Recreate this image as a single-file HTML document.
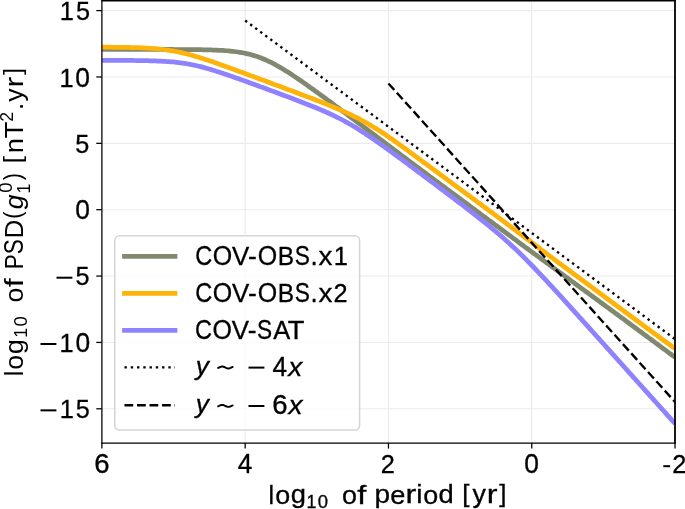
<!DOCTYPE html><html><head><meta charset="utf-8"><title>PSD</title><style>html,body{margin:0;padding:0;background:#fff;overflow:hidden}svg{display:block;will-change:transform}text{font-family:"Liberation Sans",sans-serif;fill:#000;stroke:#000;stroke-width:0.3px}</style></head><body>
<svg width="685" height="509" viewBox="0 0 685 509">
<defs><clipPath id="ax"><rect x="101.9" y="0" width="573.1" height="443"/></clipPath></defs>
<line x1="245.18" y1="0" x2="245.18" y2="443" stroke="#ebebeb" stroke-width="1.1"/>
<line x1="388.46" y1="0" x2="388.46" y2="443" stroke="#ebebeb" stroke-width="1.1"/>
<line x1="531.74" y1="0" x2="531.74" y2="443" stroke="#ebebeb" stroke-width="1.1"/>
<line x1="101.9" y1="10.60" x2="675" y2="10.60" stroke="#ebebeb" stroke-width="1.1"/>
<line x1="101.9" y1="76.96" x2="675" y2="76.96" stroke="#ebebeb" stroke-width="1.1"/>
<line x1="101.9" y1="143.33" x2="675" y2="143.33" stroke="#ebebeb" stroke-width="1.1"/>
<line x1="101.9" y1="209.69" x2="675" y2="209.69" stroke="#ebebeb" stroke-width="1.1"/>
<line x1="101.9" y1="276.06" x2="675" y2="276.06" stroke="#ebebeb" stroke-width="1.1"/>
<line x1="101.9" y1="342.43" x2="675" y2="342.43" stroke="#ebebeb" stroke-width="1.1"/>
<line x1="101.9" y1="408.79" x2="675" y2="408.79" stroke="#ebebeb" stroke-width="1.1"/>
<g clip-path="url(#ax)" fill="none">
<path d="M101.90,49.45 L103.82,49.45 L105.73,49.45 L107.65,49.45 L109.57,49.45 L111.48,49.45 L113.40,49.45 L115.32,49.45 L117.23,49.45 L119.15,49.45 L121.07,49.45 L122.98,49.45 L124.90,49.45 L126.82,49.45 L128.74,49.45 L130.65,49.45 L132.57,49.45 L134.49,49.45 L136.40,49.45 L138.32,49.45 L140.24,49.46 L142.15,49.46 L144.07,49.46 L145.99,49.46 L147.90,49.46 L149.82,49.46 L151.74,49.46 L153.65,49.46 L155.57,49.46 L157.49,49.47 L159.40,49.47 L161.32,49.47 L163.24,49.47 L165.15,49.48 L167.07,49.48 L168.99,49.48 L170.90,49.49 L172.82,49.49 L174.74,49.50 L176.65,49.51 L178.57,49.51 L180.49,49.52 L182.41,49.53 L184.32,49.54 L186.24,49.55 L188.16,49.57 L190.07,49.58 L191.99,49.60 L193.91,49.62 L195.82,49.64 L197.74,49.66 L199.66,49.69 L201.57,49.72 L203.49,49.76 L205.41,49.80 L207.32,49.84 L209.24,49.89 L211.16,49.95 L213.07,50.02 L214.99,50.09 L216.91,50.17 L218.82,50.26 L220.74,50.36 L222.66,50.48 L224.57,50.60 L226.49,50.75 L228.41,50.91 L230.32,51.08 L232.24,51.28 L234.16,51.50 L236.08,51.75 L237.99,52.02 L239.91,52.31 L241.83,52.64 L243.74,53.00 L245.66,53.40 L247.58,53.83 L249.49,54.29 L251.41,54.80 L253.33,55.35 L255.24,55.94 L257.16,56.57 L259.08,57.25 L260.99,57.97 L262.91,58.73 L264.83,59.54 L266.74,60.39 L268.66,61.28 L270.58,62.21 L272.49,63.18 L274.41,64.19 L276.33,65.23 L278.24,66.31 L280.16,67.41 L282.08,68.55 L283.99,69.71 L285.91,70.90 L287.83,72.11 L289.75,73.34 L291.66,74.59 L293.58,75.86 L295.50,77.15 L297.41,78.44 L299.33,79.76 L301.25,81.08 L303.16,82.41 L305.08,83.76 L307.00,85.11 L308.91,86.47 L310.83,87.84 L312.75,89.21 L314.66,90.59 L316.58,91.97 L318.50,93.36 L320.41,94.75 L322.33,96.14 L324.25,97.54 L326.16,98.94 L328.08,100.34 L330.00,101.74 L331.91,103.17 L333.83,104.60 L335.75,106.03 L337.67,107.46 L339.58,108.89 L341.50,110.32 L343.42,111.75 L345.33,113.18 L347.25,114.62 L349.17,116.05 L351.08,117.49 L353.00,118.93 L354.92,120.36 L356.83,121.80 L358.75,123.24 L360.67,124.67 L362.58,126.11 L364.50,127.55 L366.42,128.99 L368.33,130.43 L370.25,131.86 L372.17,133.30 L374.08,134.74 L376.00,136.18 L377.92,137.62 L379.83,139.06 L381.75,140.50 L383.67,141.94 L385.58,143.38 L387.50,144.81 L389.42,146.25 L391.34,147.69 L393.25,149.13 L395.17,150.57 L397.09,152.01 L399.00,153.45 L400.92,154.89 L402.84,156.33 L404.75,157.77 L406.67,159.21 L408.59,160.65 L410.50,162.08 L412.42,163.50 L414.34,164.92 L416.25,166.34 L418.17,167.77 L420.09,169.19 L422.00,170.61 L423.92,172.03 L425.84,173.45 L427.75,174.87 L429.67,176.29 L431.59,177.71 L433.50,179.13 L435.42,180.55 L437.34,181.97 L439.25,183.39 L441.17,184.81 L443.09,186.23 L445.01,187.65 L446.92,189.07 L448.84,190.49 L450.76,191.91 L452.67,193.33 L454.59,194.75 L456.51,196.18 L458.42,197.60 L460.34,199.02 L462.26,200.44 L464.17,201.86 L466.09,203.28 L468.01,204.70 L469.92,206.12 L471.84,207.54 L473.76,208.96 L475.67,210.38 L477.59,211.80 L479.51,213.22 L481.42,214.64 L483.34,216.06 L485.26,217.48 L487.17,218.90 L489.09,220.32 L491.01,221.74 L492.93,223.17 L494.84,224.59 L496.76,226.01 L498.68,227.43 L500.59,228.85 L502.51,230.27 L504.43,231.69 L506.34,233.11 L508.26,234.53 L510.18,235.95 L512.09,237.37 L514.01,238.79 L515.93,240.21 L517.84,241.63 L519.76,243.05 L521.68,244.47 L523.59,245.89 L525.51,247.31 L527.43,248.73 L529.34,250.15 L531.26,251.56 L533.18,252.97 L535.09,254.37 L537.01,255.77 L538.93,257.18 L540.84,258.58 L542.76,259.99 L544.68,261.39 L546.60,262.79 L548.51,264.20 L550.43,265.60 L552.35,267.00 L554.26,268.41 L556.18,269.81 L558.10,271.21 L560.01,272.62 L561.93,274.02 L563.85,275.42 L565.76,276.83 L567.68,278.23 L569.60,279.63 L571.51,281.04 L573.43,282.44 L575.35,283.84 L577.26,285.25 L579.18,286.65 L581.10,288.05 L583.01,289.46 L584.93,290.86 L586.85,292.27 L588.76,293.67 L590.68,295.07 L592.60,296.48 L594.51,297.88 L596.43,299.28 L598.35,300.69 L600.27,302.09 L602.18,303.49 L604.10,304.90 L606.02,306.30 L607.93,307.70 L609.85,309.11 L611.77,310.51 L613.68,311.91 L615.60,313.32 L617.52,314.72 L619.43,316.12 L621.35,317.54 L623.27,318.96 L625.18,320.38 L627.10,321.80 L629.02,323.22 L630.93,324.64 L632.85,326.06 L634.77,327.48 L636.68,328.90 L638.60,330.32 L640.52,331.75 L642.43,333.17 L644.35,334.59 L646.27,336.01 L648.18,337.43 L650.10,338.85 L652.02,340.27 L653.94,341.69 L655.85,343.11 L657.77,344.53 L659.69,345.95 L661.60,347.37 L663.52,348.79 L665.44,350.21 L667.35,351.63 L669.27,353.05 L671.19,354.47 L673.10,355.89 L675.02,357.31" stroke="#808870" stroke-width="4.75" stroke-linejoin="round"/>
<path d="M101.90,47.20 L103.82,47.20 L105.73,47.21 L107.65,47.22 L109.57,47.23 L111.48,47.25 L113.40,47.26 L115.32,47.28 L117.23,47.30 L119.15,47.32 L121.07,47.34 L122.98,47.37 L124.90,47.40 L126.82,47.43 L128.74,47.47 L130.65,47.51 L132.57,47.56 L134.49,47.61 L136.40,47.67 L138.32,47.73 L140.24,47.81 L142.15,47.89 L144.07,47.98 L145.99,48.08 L147.90,48.20 L149.82,48.32 L151.74,48.45 L153.65,48.58 L155.57,48.73 L157.49,48.90 L159.40,49.08 L161.32,49.28 L163.24,49.50 L165.15,49.74 L167.07,50.01 L168.99,50.29 L170.90,50.59 L172.82,50.92 L174.74,51.27 L176.65,51.64 L178.57,52.03 L180.49,52.44 L182.41,52.88 L184.32,53.33 L186.24,53.80 L188.16,54.29 L190.07,54.80 L191.99,55.32 L193.91,55.86 L195.82,56.42 L197.74,56.99 L199.66,57.57 L201.57,58.17 L203.49,58.79 L205.41,59.42 L207.32,60.06 L209.24,60.71 L211.16,61.36 L213.07,62.02 L214.99,62.68 L216.91,63.35 L218.82,64.03 L220.74,64.71 L222.66,65.39 L224.57,66.08 L226.49,66.76 L228.41,67.46 L230.32,68.15 L232.24,68.85 L234.16,69.54 L236.08,70.24 L237.99,70.94 L239.91,71.65 L241.83,72.35 L243.74,73.05 L245.66,73.76 L247.58,74.46 L249.49,75.17 L251.41,75.88 L253.33,76.59 L255.24,77.30 L257.16,78.00 L259.08,78.71 L260.99,79.42 L262.91,80.14 L264.83,80.85 L266.74,81.56 L268.66,82.27 L270.58,82.98 L272.49,83.69 L274.41,84.41 L276.33,85.12 L278.24,85.83 L280.16,86.55 L282.08,87.26 L283.99,87.98 L285.91,88.69 L287.83,89.41 L289.75,90.13 L291.66,90.84 L293.58,91.56 L295.50,92.28 L297.41,93.00 L299.33,93.72 L301.25,94.45 L303.16,95.17 L305.08,95.90 L307.00,96.62 L308.91,97.35 L310.83,98.09 L312.75,98.82 L314.66,99.56 L316.58,100.30 L318.50,101.05 L320.41,101.79 L322.33,102.55 L324.25,103.31 L326.16,104.07 L328.08,104.84 L330.00,105.62 L331.91,106.40 L333.83,107.20 L335.75,108.00 L337.67,108.81 L339.58,109.64 L341.50,110.48 L343.42,111.33 L345.33,112.19 L347.25,113.07 L349.17,113.97 L351.08,114.88 L353.00,115.81 L354.92,116.76 L356.83,117.73 L358.75,118.72 L360.67,119.73 L362.58,120.77 L364.50,121.82 L366.42,122.90 L368.33,123.99 L370.25,125.11 L372.17,126.26 L374.08,127.42 L376.00,128.60 L377.92,129.80 L379.83,131.02 L381.75,132.27 L383.67,133.55 L385.58,134.84 L387.50,136.15 L389.42,137.46 L391.34,138.80 L393.25,140.14 L395.17,141.49 L397.09,142.85 L399.00,144.22 L400.92,145.60 L402.84,146.98 L404.75,148.37 L406.67,149.77 L408.59,151.17 L410.50,152.58 L412.42,153.99 L414.34,155.40 L416.25,156.82 L418.17,158.24 L420.09,159.66 L422.00,161.06 L423.92,162.47 L425.84,163.87 L427.75,165.28 L429.67,166.69 L431.59,168.10 L433.50,169.51 L435.42,170.92 L437.34,172.33 L439.25,173.75 L441.17,175.16 L443.09,176.57 L445.01,177.99 L446.92,179.41 L448.84,180.82 L450.76,182.24 L452.67,183.66 L454.59,185.07 L456.51,186.49 L458.42,187.91 L460.34,189.33 L462.26,190.74 L464.17,192.16 L466.09,193.58 L468.01,195.00 L469.92,196.42 L471.84,197.84 L473.76,199.26 L475.67,200.67 L477.59,202.09 L479.51,203.51 L481.42,204.93 L483.34,206.35 L485.26,207.77 L487.17,209.19 L489.09,210.61 L491.01,212.03 L492.93,213.45 L494.84,214.87 L496.76,216.29 L498.68,217.70 L500.59,219.13 L502.51,220.57 L504.43,222.01 L506.34,223.45 L508.26,224.88 L510.18,226.32 L512.09,227.76 L514.01,229.20 L515.93,230.64 L517.84,232.08 L519.76,233.52 L521.68,234.96 L523.59,236.39 L525.51,237.83 L527.43,239.27 L529.34,240.71 L531.26,242.15 L533.18,243.59 L535.09,245.03 L537.01,246.46 L538.93,247.90 L540.84,249.34 L542.76,250.78 L544.68,252.22 L546.60,253.66 L548.51,255.10 L550.43,256.53 L552.35,257.97 L554.26,259.41 L556.18,260.85 L558.10,262.29 L560.01,263.73 L561.93,265.15 L563.85,266.57 L565.76,267.99 L567.68,269.41 L569.60,270.83 L571.51,272.25 L573.43,273.66 L575.35,275.08 L577.26,276.50 L579.18,277.92 L581.10,279.34 L583.01,280.76 L584.93,282.18 L586.85,283.60 L588.76,285.02 L590.68,286.44 L592.60,287.86 L594.51,289.28 L596.43,290.70 L598.35,292.12 L600.27,293.54 L602.18,294.96 L604.10,296.38 L606.02,297.80 L607.93,299.22 L609.85,300.64 L611.77,302.05 L613.68,303.47 L615.60,304.89 L617.52,306.31 L619.43,307.73 L621.35,309.15 L623.27,310.57 L625.18,311.99 L627.10,313.41 L629.02,314.83 L630.93,316.25 L632.85,317.67 L634.77,319.09 L636.68,320.51 L638.60,321.93 L640.52,323.35 L642.43,324.77 L644.35,326.19 L646.27,327.61 L648.18,329.03 L650.10,330.44 L652.02,331.84 L653.94,333.24 L655.85,334.64 L657.77,336.03 L659.69,337.43 L661.60,338.83 L663.52,340.23 L665.44,341.62 L667.35,343.02 L669.27,344.42 L671.19,345.82 L673.10,347.21 L675.02,348.61" stroke="#feb308" stroke-width="4.75" stroke-linejoin="round"/>
<path d="M101.90,60.35 L103.82,60.35 L105.73,60.35 L107.65,60.36 L109.57,60.36 L111.48,60.37 L113.40,60.37 L115.32,60.38 L117.23,60.38 L119.15,60.39 L121.07,60.40 L122.98,60.41 L124.90,60.42 L126.82,60.44 L128.74,60.45 L130.65,60.47 L132.57,60.48 L134.49,60.50 L136.40,60.53 L138.32,60.55 L140.24,60.58 L142.15,60.62 L144.07,60.65 L145.99,60.70 L147.90,60.74 L149.82,60.80 L151.74,60.84 L153.65,60.89 L155.57,60.95 L157.49,61.02 L159.40,61.09 L161.32,61.18 L163.24,61.28 L165.15,61.39 L167.07,61.51 L168.99,61.65 L170.90,61.80 L172.82,61.97 L174.74,62.16 L176.65,62.36 L178.57,62.59 L180.49,62.83 L182.41,63.09 L184.32,63.38 L186.24,63.68 L188.16,64.01 L190.07,64.36 L191.99,64.73 L193.91,65.13 L195.82,65.54 L197.74,65.98 L199.66,66.43 L201.57,66.92 L203.49,67.42 L205.41,67.95 L207.32,68.49 L209.24,69.04 L211.16,69.61 L213.07,70.20 L214.99,70.79 L216.91,71.40 L218.82,72.01 L220.74,72.64 L222.66,73.27 L224.57,73.91 L226.49,74.56 L228.41,75.22 L230.32,75.88 L232.24,76.54 L234.16,77.21 L236.08,77.89 L237.99,78.57 L239.91,79.25 L241.83,79.93 L243.74,80.62 L245.66,81.31 L247.58,82.00 L249.49,82.70 L251.41,83.39 L253.33,84.09 L255.24,84.79 L257.16,85.49 L259.08,86.19 L260.99,86.89 L262.91,87.60 L264.83,88.30 L266.74,89.01 L268.66,89.71 L270.58,90.42 L272.49,91.13 L274.41,91.84 L276.33,92.55 L278.24,93.26 L280.16,93.97 L282.08,94.69 L283.99,95.40 L285.91,96.12 L287.83,96.84 L289.75,97.56 L291.66,98.28 L293.58,99.01 L295.50,99.74 L297.41,100.47 L299.33,101.20 L301.25,101.94 L303.16,102.68 L305.08,103.43 L307.00,104.18 L308.91,104.94 L310.83,105.70 L312.75,106.47 L314.66,107.24 L316.58,108.03 L318.50,108.82 L320.41,109.63 L322.33,110.44 L324.25,111.27 L326.16,112.11 L328.08,112.96 L330.00,113.83 L331.91,114.73 L333.83,115.64 L335.75,116.58 L337.67,117.53 L339.58,118.51 L341.50,119.50 L343.42,120.52 L345.33,121.55 L347.25,122.61 L349.17,123.70 L351.08,124.80 L353.00,125.93 L354.92,127.08 L356.83,128.25 L358.75,129.44 L360.67,130.65 L362.58,131.88 L364.50,133.13 L366.42,134.40 L368.33,135.68 L370.25,136.98 L372.17,138.30 L374.08,139.62 L376.00,140.96 L377.92,142.31 L379.83,143.68 L381.75,145.03 L383.67,146.40 L385.58,147.77 L387.50,149.15 L389.42,150.53 L391.34,151.92 L393.25,153.32 L395.17,154.72 L397.09,156.12 L399.00,157.53 L400.92,158.94 L402.84,160.35 L404.75,161.77 L406.67,163.19 L408.59,164.61 L410.50,166.04 L412.42,167.46 L414.34,168.89 L416.25,170.32 L418.17,171.75 L420.09,173.18 L422.00,174.61 L423.92,176.04 L425.84,177.48 L427.75,178.91 L429.67,180.35 L431.59,181.78 L433.50,183.22 L435.42,184.66 L437.34,186.10 L439.25,187.54 L441.17,188.98 L443.09,190.42 L445.01,191.87 L446.92,193.31 L448.84,194.76 L450.76,196.21 L452.67,197.66 L454.59,199.11 L456.51,200.56 L458.42,202.02 L460.34,203.48 L462.26,204.94 L464.17,206.40 L466.09,207.87 L468.01,209.34 L469.92,210.82 L471.84,212.30 L473.76,213.79 L475.67,215.28 L477.59,216.78 L479.51,218.29 L481.42,219.81 L483.34,221.33 L485.26,222.87 L487.17,224.41 L489.09,225.97 L491.01,227.54 L492.93,229.13 L494.84,230.72 L496.76,232.34 L498.68,233.97 L500.59,235.62 L502.51,237.29 L504.43,238.98 L506.34,240.69 L508.26,242.41 L510.18,244.16 L512.09,245.94 L514.01,247.73 L515.93,249.54 L517.84,251.38 L519.76,253.24 L521.68,255.11 L523.59,257.01 L525.51,258.93 L527.43,260.86 L529.34,262.81 L531.26,264.78 L533.18,266.76 L535.09,268.76 L537.01,270.77 L538.93,272.80 L540.84,274.83 L542.76,276.88 L544.68,278.93 L546.60,280.99 L548.51,283.06 L550.43,285.14 L552.35,287.23 L554.26,289.32 L556.18,291.41 L558.10,293.51 L560.01,295.62 L561.93,297.72 L563.85,299.83 L565.76,301.95 L567.68,304.06 L569.60,306.18 L571.51,308.30 L573.43,310.43 L575.35,312.55 L577.26,314.68 L579.18,316.81 L581.10,318.93 L583.01,321.06 L584.93,323.19 L586.85,325.33 L588.76,327.46 L590.68,329.59 L592.60,331.72 L594.51,333.86 L596.43,335.99 L598.35,338.13 L600.27,340.26 L602.18,342.40 L604.10,344.53 L606.02,346.67 L607.93,348.80 L609.85,350.94 L611.77,353.08 L613.68,355.21 L615.60,357.35 L617.52,359.49 L619.43,361.62 L621.35,363.76 L623.27,365.90 L625.18,368.03 L627.10,370.17 L629.02,372.31 L630.93,374.45 L632.85,376.58 L634.77,378.72 L636.68,380.86 L638.60,382.99 L640.52,385.13 L642.43,387.27 L644.35,389.41 L646.27,391.54 L648.18,393.68 L650.10,395.82 L652.02,397.96 L653.94,400.09 L655.85,402.23 L657.77,404.37 L659.69,406.51 L661.60,408.64 L663.52,410.78 L665.44,412.92 L667.35,415.06 L669.27,417.19 L671.19,419.33 L673.10,421.47 L675.02,423.61" stroke="#8e82fe" stroke-width="4.75" stroke-linejoin="round"/>
<line x1="245.18" y1="20.55" x2="675.02" y2="339.11" stroke="#000" stroke-width="2.362" stroke-dasharray="2.362 3.90"/>
<line x1="388.46" y1="83.47" x2="675.02" y2="402.02" stroke="#000" stroke-width="2.362" stroke-dasharray="8.74 3.78"/>
</g>
<line x1="101.9" y1="0" x2="101.9" y2="443.6" stroke="#000" stroke-width="1.27"/>
<line x1="101.3" y1="443.2" x2="675.6" y2="443.2" stroke="#000" stroke-width="1.27"/>
<line x1="101.3" y1="0.7" x2="676" y2="0.7" stroke="#000" stroke-width="1.4"/>
<line x1="675.0" y1="0" x2="675.0" y2="443.6" stroke="#000" stroke-width="1.8"/>
<line x1="101.90" y1="443" x2="101.90" y2="448.6" stroke="#000" stroke-width="1.27"/>
<line x1="245.18" y1="443" x2="245.18" y2="448.6" stroke="#000" stroke-width="1.27"/>
<line x1="388.46" y1="443" x2="388.46" y2="448.6" stroke="#000" stroke-width="1.27"/>
<line x1="531.74" y1="443" x2="531.74" y2="448.6" stroke="#000" stroke-width="1.27"/>
<line x1="675.02" y1="443" x2="675.02" y2="448.6" stroke="#000" stroke-width="1.27"/>
<line x1="96.3" y1="10.60" x2="101.9" y2="10.60" stroke="#000" stroke-width="1.27"/>
<line x1="96.3" y1="76.96" x2="101.9" y2="76.96" stroke="#000" stroke-width="1.27"/>
<line x1="96.3" y1="143.33" x2="101.9" y2="143.33" stroke="#000" stroke-width="1.27"/>
<line x1="96.3" y1="209.69" x2="101.9" y2="209.69" stroke="#000" stroke-width="1.27"/>
<line x1="96.3" y1="276.06" x2="101.9" y2="276.06" stroke="#000" stroke-width="1.27"/>
<line x1="96.3" y1="342.43" x2="101.9" y2="342.43" stroke="#000" stroke-width="1.27"/>
<line x1="96.3" y1="408.79" x2="101.9" y2="408.79" stroke="#000" stroke-width="1.27"/>
<rect x="56.5" y="276.70" width="15.90" height="2.0" fill="#000"/>
<rect x="40.5" y="343.00" width="15.90" height="2.0" fill="#000"/>
<rect x="40.5" y="409.35" width="15.90" height="2.0" fill="#000"/>
<rect x="663.3" y="465.20" width="6.8" height="2.0" fill="#000"/>
<rect x="114.8" y="235.8" width="244.8" height="194.1" rx="4.5" ry="4.5" fill="#fff" fill-opacity="0.8" stroke="#d6d6d6" stroke-width="1.55"/>
<line x1="124.5" y1="256.4" x2="175" y2="256.4" stroke="#808870" stroke-width="4.75" stroke-linecap="square"/>
<line x1="124.5" y1="293.4" x2="175" y2="293.4" stroke="#feb308" stroke-width="4.75" stroke-linecap="square"/>
<line x1="124.5" y1="330.4" x2="175" y2="330.4" stroke="#8e82fe" stroke-width="4.75" stroke-linecap="square"/>
<line x1="124.5" y1="367.4" x2="175" y2="367.4" stroke="#000" stroke-width="2.362" stroke-dasharray="2.362 3.90"/>
<line x1="124.5" y1="405.3" x2="175" y2="405.3" stroke="#000" stroke-width="2.362" stroke-dasharray="8.74 3.78"/>
<path d="M218.10,367.96 L218.60,367.74 L219.10,367.50 L219.60,367.26 L220.10,367.04 L220.60,366.85 L221.10,366.69 L221.60,366.59 L222.10,366.55 L222.60,366.57 L223.10,366.65 L223.60,366.78 L224.10,366.96 L224.60,367.17 L225.10,367.40 L225.60,367.64 L226.10,367.87 L226.60,368.08 L227.10,368.25 L227.60,368.37 L228.10,368.44 L228.60,368.45 L229.10,368.39 L229.60,368.28 L230.10,368.12 L230.60,367.92 L231.10,367.69 L231.60,367.45 L232.10,367.22 L232.60,367.00" fill="none" stroke="#000" stroke-width="1.95" stroke-linecap="round" stroke-linejoin="round"/>
<rect x="248.5" y="366.60" width="15.9" height="2.0" fill="#000"/>
<path d="M218.10,406.36 L218.60,406.14 L219.10,405.90 L219.60,405.66 L220.10,405.44 L220.60,405.25 L221.10,405.09 L221.60,404.99 L222.10,404.95 L222.60,404.97 L223.10,405.05 L223.60,405.18 L224.10,405.36 L224.60,405.57 L225.10,405.80 L225.60,406.04 L226.10,406.27 L226.60,406.48 L227.10,406.65 L227.60,406.77 L228.10,406.84 L228.60,406.85 L229.10,406.79 L229.60,406.68 L230.10,406.52 L230.60,406.32 L231.10,406.09 L231.60,405.85 L232.10,405.62 L232.60,405.40" fill="none" stroke="#000" stroke-width="1.95" stroke-linecap="round" stroke-linejoin="round"/>
<rect x="248.5" y="405.00" width="15.9" height="2.0" fill="#000"/>
<text transform="matrix(1.0039,0,0,1.0508,59.69,20.14)" font-size="25.30">1</text><text transform="matrix(0.9981,0,0,1.0560,75.90,20.23)" font-size="25.30">5</text>
<text transform="matrix(1.0039,0,0,1.0508,59.48,86.81)" font-size="25.30">1</text><text transform="matrix(1.0440,0,0,1.0595,75.36,86.90)" font-size="25.30">0</text>
<text transform="matrix(0.9981,0,0,1.0560,75.36,152.83)" font-size="25.30">5</text>
<text transform="matrix(1.0440,0,0,1.0595,75.35,219.15)" font-size="25.30">0</text>
<text transform="matrix(0.9981,0,0,1.0560,75.61,285.43)" font-size="25.30">5</text>
<text transform="matrix(1.0039,0,0,1.0508,59.58,351.96)" font-size="25.30">1</text><text transform="matrix(1.0440,0,0,1.0595,75.46,352.05)" font-size="25.30">0</text>
<text transform="matrix(1.0039,0,0,1.0508,59.64,417.94)" font-size="25.30">1</text><text transform="matrix(0.9981,0,0,1.0560,75.85,418.03)" font-size="25.30">5</text>
<text transform="matrix(1.0884,0,0,1.0595,94.29,473.00)" font-size="25.30">6</text>
<text transform="matrix(1.0359,0,0,1.0662,237.64,473.14)" font-size="25.30">4</text>
<text transform="matrix(1.0005,0,0,1.0544,380.76,473.04)" font-size="25.30">2</text>
<text transform="matrix(1.0440,0,0,1.0595,524.20,473.00)" font-size="25.30">0</text>
<text transform="matrix(1.0005,0,0,1.0544,672.16,473.04)" font-size="25.30">2</text>
<text transform="matrix(0.9927,0,0,1.0495,268.59,503.67)" font-size="25.30">l</text><text transform="matrix(1.0622,0,0,1.0383,275.28,503.50)" font-size="25.30">o</text><text transform="matrix(1.0801,0,0,1.0321,290.66,503.15)" font-size="25.30">g</text>
<text transform="matrix(1.0039,0,0,1.0508,306.52,507.76)" font-size="17.71">1</text><text transform="matrix(1.0440,0,0,1.0595,317.64,507.82)" font-size="17.71">0</text>
<text transform="matrix(1.0622,0,0,1.0383,342.00,503.50)" font-size="25.30">o</text><text transform="matrix(1.2822,0,0,1.0495,357.34,503.67)" font-size="25.30">f</text>
<text transform="matrix(1.1061,0,0,1.0183,374.40,503.22)" font-size="25.30">p</text><text transform="matrix(1.0725,0,0,1.0383,390.35,503.50)" font-size="25.30">e</text><text transform="matrix(1.2742,0,0,1.0313,405.55,503.40)" font-size="25.30">r</text><text transform="matrix(1.1168,0,0,1.0351,416.26,503.40)" font-size="25.30">i</text><text transform="matrix(1.0622,0,0,1.0383,423.17,503.50)" font-size="25.30">o</text><text transform="matrix(1.0801,0,0,1.0402,438.55,503.49)" font-size="25.30">d</text>
<text transform="matrix(1.0294,0,0,0.9434,462.36,501.71)" font-size="25.30">[</text><text transform="matrix(1.0585,0,0,1.0144,472.58,503.24)" font-size="25.30">y</text><text transform="matrix(1.2742,0,0,1.0313,486.75,503.40)" font-size="25.30">r</text><text transform="matrix(1.0294,0,0,0.9434,499.25,501.71)" font-size="25.30">]</text>
<text transform="rotate(-90) matrix(0.9927,0,0,1.0495,-376.36,23.17)" font-size="25.30" style="stroke-width:0px">l</text><text transform="rotate(-90) matrix(1.0622,0,0,1.0383,-369.67,23.00)" font-size="25.30" style="stroke-width:0px">o</text><text transform="rotate(-90) matrix(1.0801,0,0,1.0321,-354.29,22.65)" font-size="25.30" style="stroke-width:0px">g</text>
<text transform="rotate(-90) matrix(1.0039,0,0,1.0508,-337.68,26.86)" font-size="17.71" style="stroke-width:0px">1</text><text transform="rotate(-90) matrix(1.0440,0,0,1.0595,-326.56,26.92)" font-size="17.71" style="stroke-width:0px">0</text>
<text transform="rotate(-90) matrix(1.0622,0,0,1.0383,-302.60,23.10)" font-size="25.30" style="stroke-width:0px">o</text><text transform="rotate(-90) matrix(1.2822,0,0,1.0495,-287.26,23.27)" font-size="25.30" style="stroke-width:0px">f</text>
<text transform="rotate(-90) matrix(0.8834,0,0,1.0508,-269.36,23.00)" font-size="25.30" style="stroke-width:0px">P</text><text transform="rotate(-90) matrix(0.8952,0,0,1.0595,-254.34,23.09)" font-size="25.30" style="stroke-width:0px">S</text><text transform="rotate(-90) matrix(1.0329,0,0,1.0508,-238.52,23.00)" font-size="25.30" style="stroke-width:0px">D</text><text transform="rotate(-90) matrix(0.8570,0,0,0.9422,-218.66,21.31)" font-size="25.30" style="stroke-width:0px">(</text>
<text transform="rotate(-90) matrix(1.0388,0,0,1.0183,-209.30,22.90)" font-size="25.30" font-style="italic" style="stroke-width:0px">g</text>
<text transform="rotate(-90) matrix(1.0440,0,0,1.0595,-192.78,12.37)" font-size="17.71" style="stroke-width:0px">0</text>
<text transform="rotate(-90) matrix(1.0039,0,0,1.0508,-193.44,29.52)" font-size="17.71" style="stroke-width:0px">1</text>
<text transform="rotate(-90) matrix(0.8570,0,0,0.9422,-180.24,20.90)" font-size="25.30" style="stroke-width:0px">)</text>
<text transform="rotate(-90) matrix(1.0294,0,0,0.9434,-163.14,21.41)" font-size="25.30" style="stroke-width:0px">[</text><text transform="rotate(-90) matrix(1.0847,0,0,1.0313,-153.30,23.10)" font-size="25.30" style="stroke-width:0px">n</text><text transform="rotate(-90) matrix(1.0760,0,0,1.0508,-138.34,23.10)" font-size="25.30" style="stroke-width:0px">T</text>
<text transform="rotate(-90) matrix(1.0005,0,0,1.0544,-121.71,13.14)" font-size="17.71" style="stroke-width:0px">2</text>
<text transform="rotate(-90) matrix(1.0255,0,0,1.1216,-110.03,22.90)" font-size="25.30" style="stroke-width:0px">.</text><text transform="rotate(-90) matrix(1.0585,0,0,1.0144,-101.64,22.74)" font-size="25.30" style="stroke-width:0px">y</text><text transform="rotate(-90) matrix(1.2742,0,0,1.0313,-87.47,22.90)" font-size="25.30" style="stroke-width:0px">r</text><text transform="rotate(-90) matrix(1.0294,0,0,0.9434,-74.97,21.21)" font-size="25.30" style="stroke-width:0px">]</text>
<text transform="matrix(0.9281,0,0,1.0595,195.28,265.30)" font-size="25.30">C</text><text transform="matrix(0.9869,0,0,1.0595,212.77,265.30)" font-size="25.30">O</text><text transform="matrix(1.0220,0,0,1.0508,231.91,265.21)" font-size="25.30">V</text><text transform="matrix(1.0467,0,0,0.9945,247.88,265.11)" font-size="25.30">-</text><text transform="matrix(0.9869,0,0,1.0595,257.64,265.30)" font-size="25.30">O</text><text transform="matrix(0.9704,0,0,1.0508,277.79,265.21)" font-size="25.30">B</text><text transform="matrix(0.8952,0,0,1.0595,294.63,265.30)" font-size="25.30">S</text><text transform="matrix(1.0255,0,0,1.1216,310.43,265.21)" font-size="25.30">.</text><text transform="matrix(1.0987,0,0,1.0261,318.52,265.21)" font-size="25.30">x</text><text transform="matrix(1.0039,0,0,1.0508,333.69,265.21)" font-size="25.30">1</text>
<text transform="matrix(0.9281,0,0,1.0595,195.33,302.30)" font-size="25.30">C</text><text transform="matrix(0.9869,0,0,1.0595,212.82,302.30)" font-size="25.30">O</text><text transform="matrix(1.0220,0,0,1.0508,231.96,302.21)" font-size="25.30">V</text><text transform="matrix(1.0467,0,0,0.9945,247.93,302.11)" font-size="25.30">-</text><text transform="matrix(0.9869,0,0,1.0595,257.69,302.30)" font-size="25.30">O</text><text transform="matrix(0.9704,0,0,1.0508,277.84,302.21)" font-size="25.30">B</text><text transform="matrix(0.8952,0,0,1.0595,294.68,302.30)" font-size="25.30">S</text><text transform="matrix(1.0255,0,0,1.1216,310.48,302.21)" font-size="25.30">.</text><text transform="matrix(1.0987,0,0,1.0261,318.56,302.21)" font-size="25.30">x</text><text transform="matrix(1.0005,0,0,1.0544,333.59,302.21)" font-size="25.30">2</text>
<text transform="matrix(0.9281,0,0,1.0595,195.09,339.30)" font-size="25.30">C</text><text transform="matrix(0.9869,0,0,1.0595,212.58,339.30)" font-size="25.30">O</text><text transform="matrix(1.0220,0,0,1.0508,231.72,339.21)" font-size="25.30">V</text><text transform="matrix(1.0467,0,0,0.9945,247.69,339.11)" font-size="25.30">-</text><text transform="matrix(0.8952,0,0,1.0595,257.12,339.30)" font-size="25.30">S</text><text transform="matrix(1.0065,0,0,1.0508,273.23,339.21)" font-size="25.30">A</text><text transform="matrix(1.0760,0,0,1.0508,287.68,339.21)" font-size="25.30">T</text>
<text transform="matrix(1.0406,0,0,1.0144,195.67,375.06)" font-size="25.30" font-style="italic">y</text>
<text transform="matrix(1.0359,0,0,1.0662,272.44,375.74)" font-size="25.30">4</text>
<text transform="matrix(1.1118,0,0,1.0261,288.15,375.53)" font-size="25.30" font-style="italic">x</text>
<text transform="matrix(1.0406,0,0,1.0144,195.67,413.46)" font-size="25.30" font-style="italic">y</text>
<text transform="matrix(1.0884,0,0,1.0595,272.14,413.70)" font-size="25.30">6</text>
<text transform="matrix(1.1118,0,0,1.0261,288.45,413.53)" font-size="25.30" font-style="italic">x</text>
</svg></body></html>
